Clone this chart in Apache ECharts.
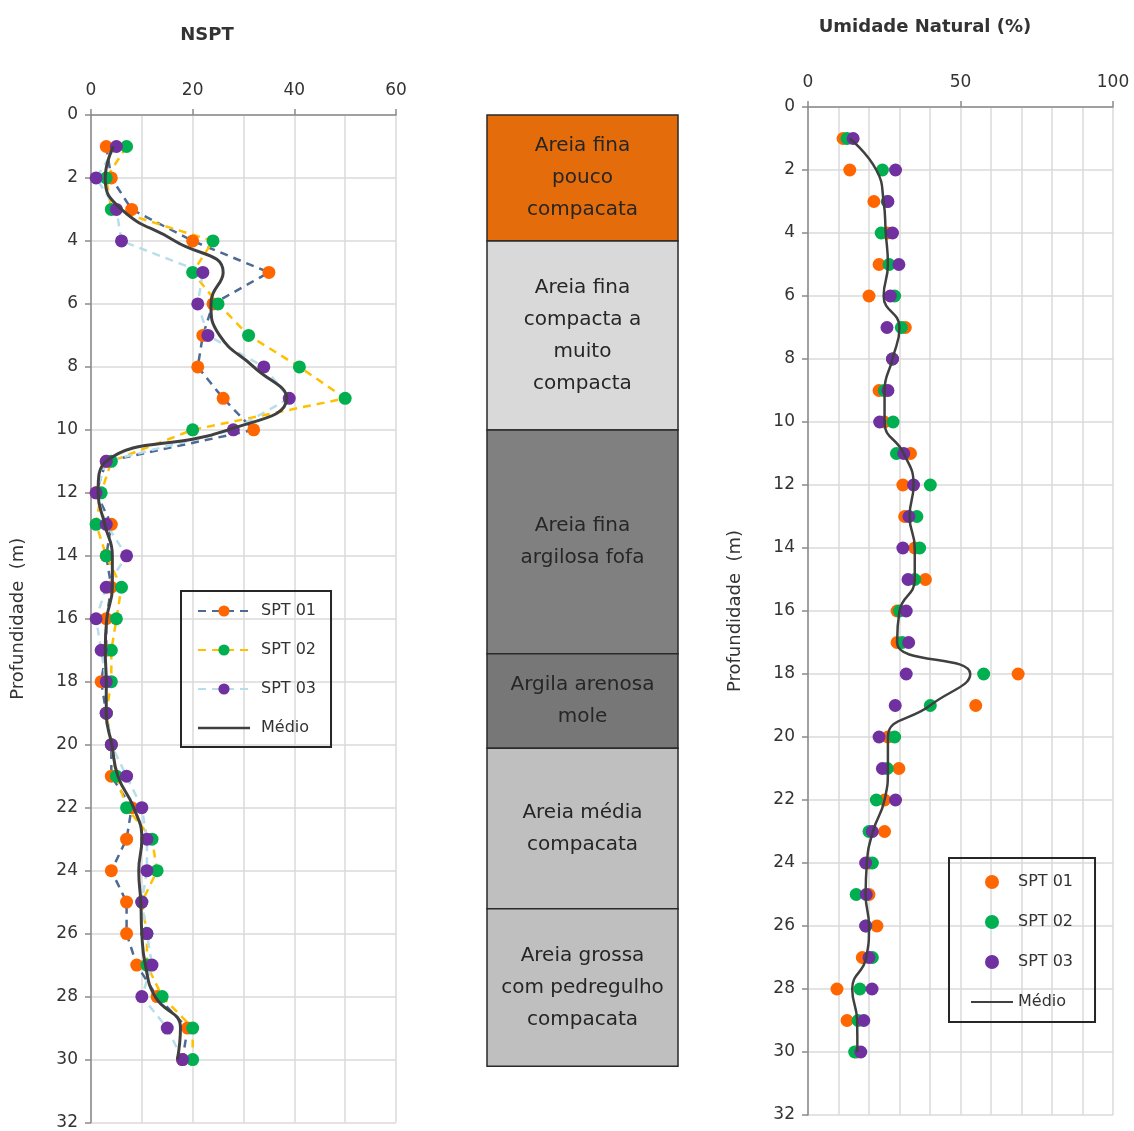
<!DOCTYPE html>
<html>
<head>
<meta charset="utf-8">
<title>Perfil NSPT e Umidade</title>
<script src="https://cdn.jsdelivr.net/npm/echarts@6/dist/echarts.min.js"></script>
<style>
  html, body { margin: 0; padding: 0; background: #ffffff; }
  #chart { width: 1134px; height: 1131px; }
</style>
</head>
<body>
<div id="chart"></div>
<script>
// Profundidade dos ensaios (m)
const depth = [1, 2, 3, 4, 5, 6, 7, 8, 9, 10, 11, 12, 13, 14, 15,
               16, 17, 18, 19, 20, 21, 22, 23, 24, 25, 26, 27, 28, 29, 30];

// NSPT por furo
const nsptSpt01 = [3, 4, 8, 20, 35, 24, 22, 21, 26, 32, 3, 1, 4, 3, 4,
                   3, 3, 2, 3, 4, 4, 8, 7, 4, 7, 7, 9, 13, 19, 18];
const nsptSpt02 = [7, 3, 4, 24, 20, 25, 31, 41, 50, 20, 4, 2, 1, 3, 6,
                   5, 4, 4, 3, 4, 5, 7, 12, 13, 10, 11, 11, 14, 20, 20];
const nsptSpt03 = [5, 1, 5, 6, 22, 21, 23, 34, 39, 28, 3, 1, 3, 7, 3,
                   1, 2, 3, 3, 4, 7, 10, 11, 11, 10, 11, 12, 10, 15, 18];
const nsptMedio = [4.4, 2.8, 6, 16.5, 26, 23.6, 25.3, 32, 38.5, 27, 3, 1.4, 2.7, 4.2, 4.2,
                   3.1, 2.8, 3, 3, 4.1, 5.3, 8.4, 10, 9.4, 9.8, 10, 10.7, 12.6, 17.6, 17];

// Umidade natural (%) por furo
const umidSpt01 = [11.5, 13.7, 21.6, 26, 23.3, 20, 31.9, 27.7, 23.3, 25, 33.6, 31.1, 31.7, 35, 38.5,
                   29.2, 29.2, 68.9, 55, 26.2, 29.8, 25.1, 25.1, 20, 20, 22.6, 17.8, 9.5, 12.8, 16];
const umidSpt02 = [12.8, 24.4, 26, 24, 26.6, 28.4, 30.6, 27.7, 25, 27.9, 29, 40.1, 35.7, 36.6, 35,
                   30, 30.9, 57.6, 40.1, 28.4, 26, 22.4, 20, 21.1, 15.8, 19, 21.1, 17, 16.4, 15.3];
const umidSpt03 = [14.8, 28.7, 26.2, 27.7, 29.8, 27, 25.9, 27.7, 26.2, 23.5, 31.4, 34.6, 33.1, 31.1, 32.8,
                   32.2, 33, 32.2, 28.6, 23.3, 24.4, 28.7, 21.1, 18.9, 19.1, 18.9, 20, 21, 18.3, 17.3];
const umidMedio = [13.7, 22.4, 24.8, 25.5, 26.2, 24.8, 30, 27.7, 25.1, 25.1, 31.4, 34.6, 33.3, 35, 35,
                   30, 29.2, 53.2, 40, 26.2, 26.2, 25.1, 21.3, 19.3, 18.9, 20, 19.1, 14.5, 16.1, 16.2];

// Perfil estratigráfico: topo e base de cada camada (m)
const layerNames = ['Areia fina\npouco\ncompacata',
                    'Areia fina\ncompacta a\nmuito\ncompacta',
                    'Areia fina\nargilosa fofa',
                    'Argila arenosa\nmole',
                    'Areia média\ncompacata',
                    'Areia grossa\ncom pedregulho\ncompacata'];
const layerTop    = [0, 4, 10, 17.1, 20.1, 25.2];
const layerBottom = [4, 10, 17.1, 20.1, 25.2, 30.2];
const layerColors = ['#E46C0A', '#D9D9D9', '#808080', '#777777', '#BFBFBF', '#BFBFBF'];

// Tick labels
const nsptTicks = [0, 20, 40, 60];
const umidTicks = [0, 50, 100];
const depthTicks = [0, 2, 4, 6, 8, 10, 12, 14, 16, 18, 20, 22, 24, 26, 28, 30, 32];

const FONT = 'DejaVu Sans';
const TXT = '#333333';
const AXIS = '#8a8a8a';
const GRIDC = '#dadada';
const MEDIO = '#404040';
// plain horizontal bar used as the legend icon of the average curve
const LINE_ICON = 'path://M0,0 L60,0 L60,3 L0,3 Z';

const pairs = (xs) => xs.map((x, i) => [x, depth[i]]);

const depthAxis = (gridIndex, show) => ({
  type: 'value', gridIndex, inverse: true,
  min: depthTicks[0], max: depthTicks[depthTicks.length - 1], interval: 2,
  show,
  name: show ? 'Profundidade  (m)' : '',
  nameLocation: 'middle', nameRotate: 90, nameGap: 64,
  nameTextStyle: { fontFamily: FONT, fontSize: 18, color: TXT },
  axisLine: { show: true, onZero: false, lineStyle: { color: AXIS, width: 1.5 } },
  axisTick: { show: true, length: 6, lineStyle: { color: AXIS, width: 1.5 } },
  axisLabel: { fontFamily: FONT, fontSize: 17, color: TXT, margin: 13 },
  splitLine: { show: true, lineStyle: { color: GRIDC, width: 1.5 } }
});

const valueAxis = (gridIndex, max, interval, minorSplit, ticks) => ({
  type: 'value', gridIndex, position: 'top',
  min: 0, max, interval,
  axisLine: { show: true, onZero: false, lineStyle: { color: AXIS, width: 1.5 } },
  axisTick: { show: true, length: 6, lineStyle: { color: AXIS, width: 1.5 } },
  axisLabel: {
    fontFamily: FONT, fontSize: 17, color: TXT, margin: 16,
    formatter: (v) => (ticks.indexOf(v) >= 0 ? String(v) : '')
  },
  splitLine: { show: true, lineStyle: { color: GRIDC, width: 1.5 } },
  minorTick: { show: false, splitNumber: minorSplit },
  minorSplitLine: { show: true, lineStyle: { color: GRIDC, width: 1.5 } }
});

const sptLine = (name, values, lineColor, markColor) => ({
  name, type: 'line', xAxisIndex: 0, yAxisIndex: 0,
  data: pairs(values),
  symbol: 'circle', symbolSize: 13,
  itemStyle: { color: markColor, borderWidth: 0 },
  lineStyle: { color: lineColor, width: 2.5, type: [8, 6] },
  z: 3
});

const umidScatter = (name, values, markColor) => ({
  name, type: 'scatter', xAxisIndex: 2, yAxisIndex: 2,
  data: pairs(values),
  symbol: 'circle', symbolSize: 13,
  itemStyle: { color: markColor, opacity: 1 },
  z: 3
});

const chart = echarts.init(document.getElementById('chart'), null, { renderer: 'canvas' });

chart.setOption({
  backgroundColor: '#ffffff',
  animation: false,
  textStyle: { fontFamily: FONT },
  graphic: [
    { type: 'text', x: 207, y: 35, style: { text: 'NSPT', fontFamily: FONT, fontWeight: 'bold', fontSize: 18, fill: TXT, align: 'center', verticalAlign: 'middle' } },
    { type: 'text', x: 925, y: 27, style: { text: 'Umidade Natural (%)', fontFamily: FONT, fontWeight: 'bold', fontSize: 18, fill: TXT, align: 'center', verticalAlign: 'middle' } }
  ],
  grid: [
    { left: 91, top: 115, width: 305, height: 1008 },
    { left: 487, top: 115, width: 191, height: 1008 },
    { left: 808, top: 107, width: 305, height: 1008 }
  ],
  xAxis: [
    valueAxis(0, 60, 20, 2, nsptTicks),
    { type: 'value', gridIndex: 1, min: 0, max: 1, show: false },
    valueAxis(2, 100, 50, 5, umidTicks)
  ],
  yAxis: [
    depthAxis(0, true),
    Object.assign(depthAxis(1, false), { splitLine: { show: false } }),
    depthAxis(2, true)
  ],
  legend: [
    {
      orient: 'vertical', left: 181, top: 591,
      data: ['SPT 01', 'SPT 02', 'SPT 03',
             { name: 'Médio', icon: LINE_ICON, itemStyle: { color: MEDIO } }],
      itemWidth: 52, itemHeight: 14, itemGap: 19,
      padding: [10, 15, 9, 16],
      borderColor: '#262626', borderWidth: 2,
      textStyle: { fontFamily: FONT, fontSize: 16, color: TXT, lineHeight: 20, padding: [0, 0, 0, 6] }
    },
    {
      orient: 'vertical', left: 949, top: 858,
      data: [
        { name: 'SPT 01', icon: 'circle', itemStyle: { color: '#FF6600', borderWidth: 0 } },
        { name: 'SPT 02', icon: 'circle', itemStyle: { color: '#00B050', borderWidth: 0 } },
        { name: 'SPT 03', icon: 'circle', itemStyle: { color: '#7030A0', borderWidth: 0 } },
        { name: 'Médio', icon: LINE_ICON, itemStyle: { color: MEDIO } }
      ],
      itemWidth: 42, itemHeight: 14, itemGap: 20,
      padding: [14, 22, 10, 22],
      borderColor: '#262626', borderWidth: 2,
      textStyle: { fontFamily: FONT, fontSize: 16, color: TXT, lineHeight: 20 }
    }
  ],
  series: [
    sptLine('SPT 01', nsptSpt01, '#4D6A95', '#FF6600'),
    sptLine('SPT 02', nsptSpt02, '#FFC000', '#00B050'),
    sptLine('SPT 03', nsptSpt03, '#B7DEEA', '#7030A0'),
    {
      name: 'Médio', type: 'line', xAxisIndex: 0, yAxisIndex: 0,
      data: pairs(nsptMedio),
      symbol: 'none', smooth: 0.5,
      lineStyle: { color: MEDIO, width: 3 },
      itemStyle: { color: MEDIO },
      z: 4
    },
    {
      name: 'Perfil', type: 'custom', xAxisIndex: 1, yAxisIndex: 1,
      data: layerNames.map((n, i) => [layerTop[i], layerBottom[i], i]),
      renderItem: (params, api) => {
        const i = api.value(2);
        const p0 = api.coord([0, api.value(0)]);
        const p1 = api.coord([1, api.value(1)]);
        return {
          type: 'group',
          children: [
            {
              type: 'rect',
              shape: { x: p0[0], y: p0[1], width: p1[0] - p0[0], height: p1[1] - p0[1] },
              style: { fill: layerColors[i], stroke: '#2a2a2a', lineWidth: 1.5 }
            },
            {
              type: 'text',
              style: {
                text: layerNames[i],
                x: (p0[0] + p1[0]) / 2, y: (p0[1] + p1[1]) / 2,
                align: 'center', verticalAlign: 'middle',
                fontFamily: FONT, fontSize: 20, lineHeight: 32, fill: '#262626'
              }
            }
          ]
        };
      },
      silent: true
    },
    umidScatter('SPT 01', umidSpt01, '#FF6600'),
    umidScatter('SPT 02', umidSpt02, '#00B050'),
    umidScatter('SPT 03', umidSpt03, '#7030A0'),
    {
      name: 'Médio', type: 'line', xAxisIndex: 2, yAxisIndex: 2,
      data: pairs(umidMedio),
      symbol: 'none', smooth: 0.5,
      lineStyle: { color: MEDIO, width: 2.5 },
      itemStyle: { color: MEDIO },
      z: 4
    }
  ]
});
</script>
</body>
</html>
